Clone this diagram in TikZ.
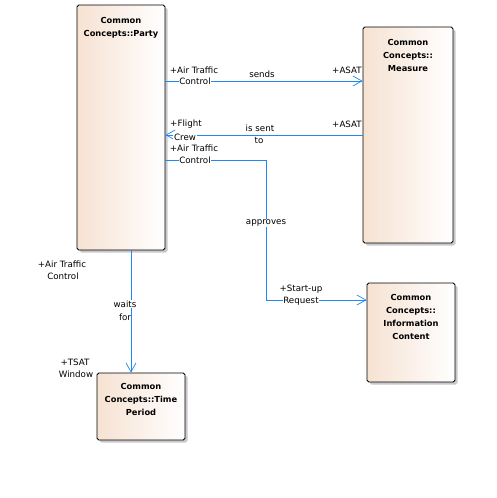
\documentclass[tikz,border=0pt]{standalone}
\usepackage{fontspec}
\setmainfont{DejaVu Sans}
\usetikzlibrary{arrows.meta,shadows}
\definecolor{conn}{RGB}{30,136,245}
\definecolor{peach}{RGB}{246,226,210}
\definecolor{shade}{RGB}{200,200,205}
\tikzset{
  x=1pt,y=1pt,
  umlbox/.style={draw=black, line width=0.8pt, rounded corners=1.8pt, left color=peach, right color=white,
    drop shadow={shadow xshift=2.5pt, shadow yshift=-2.5pt, fill=shade, opacity=1}, inner sep=0pt},
  title/.style={font=\fontsize{8.3}{13}\selectfont\bfseries, align=center, anchor=north, inner sep=0pt},
  lbl/.style={font=\fontsize{8.7}{12}\selectfont, inner sep=0.6pt, text=black},
  lblw/.style={lbl, fill=white},
  assoc/.style={draw=conn, line width=0.8pt},
  nav/.style={assoc, -{Straight Barb[length=9pt,width=10pt,line width=0.7pt]}}
}
\begin{document}
\begin{tikzpicture}
\useasboundingbox[fill=white] (0,0) rectangle (496,-498);
% boxes
\node[umlbox, minimum width=88pt, minimum height=245pt] (party) at (121,-127.5) {};
\node[umlbox, minimum width=90pt, minimum height=216pt] (measure) at (408,-135) {};
\node[umlbox, minimum width=88pt, minimum height=99pt] (info) at (411,-332.5) {};
\node[umlbox, minimum width=88pt, minimum height=67pt] (time) at (141,-406.5) {};
% titles
\node[title] (tparty) at ([yshift=-12.5pt]party.north) {Common\\Concepts::Party};
\node[title] (tmeasure) at ([yshift=-12.5pt]measure.north) {Common\\Concepts::\\Measure};
\node[title] (tinfo) at ([yshift=-12pt]info.north) {Common\\Concepts::\\Information\\Content};
\node[title] (ttime) at ([yshift=-11pt]time.north) {Common\\Concepts::Time\\Period};
% connectors
\coordinate (s1) at (party.east |- 0,-81);
\coordinate (s2) at (measure.west |- 0,-81);
\draw[nav] (s1) -- (s2);
\coordinate (r1) at (measure.west |- 0,-135);
\coordinate (r2) at (party.east |- 0,-135);
\draw[nav] (r1) -- (r2);
\coordinate (a1) at (party.east |- 0,-160);
\coordinate (a2) at (266,-160);
\coordinate (a3) at (266,-300);
\coordinate (a4) at (info.west |- 0,-300);
\draw[nav] (a1) -- (a2) -- (a3) -- (a4);
\coordinate (w1) at (party.south -| 131,0);
\coordinate (w2) at (time.north -| 131,0);
\draw[nav] (w1) -- (w2);
% labels: sends
\node[lbl] (l1) at (194,-70) {+Air Traffic};
\node[lblw] (l2) at (195,-81) {Control};
\node[lbl] (l3) at (262,-74) {sends};
\node[lbl] (l4) at (347,-70) {+ASAT};
% labels: is sent to
\node[lbl] (l5) at (186,-124) {+Flight};
\node[lblw] (l6) at (185,-137) {Crew};
\node[lbl] (l7) at (260,-128) {is sent};
\node[lbl] (l8) at (259,-141) {to};
\node[lbl] (l9) at (347,-124) {+ASAT};
% labels: approves
\node[lbl] (l10) at (194,-148) {+Air Traffic};
\node[lblw] (l11) at (195,-160) {Control};
\node[lblw] (l12) at (266,-223) {approves};
\node[lbl] (l13) at (301,-289) {+Start-up};
\node[lblw] (l14) at (301,-301) {Request};
% labels: waits for
\node[lbl] (l15) at (62,-264) {+Air Traffic};
\node[lbl] (l16) at (63,-276) {Control};
\node[lblw] (l17) at (125,-304) {waits};
\node[lbl] (l18) at (125,-317) {for};
\node[lbl] (l19) at (75,-362) {+TSAT};
\node[lbl] (l20) at (76,-374) {Window};
\end{tikzpicture}
\end{document}
